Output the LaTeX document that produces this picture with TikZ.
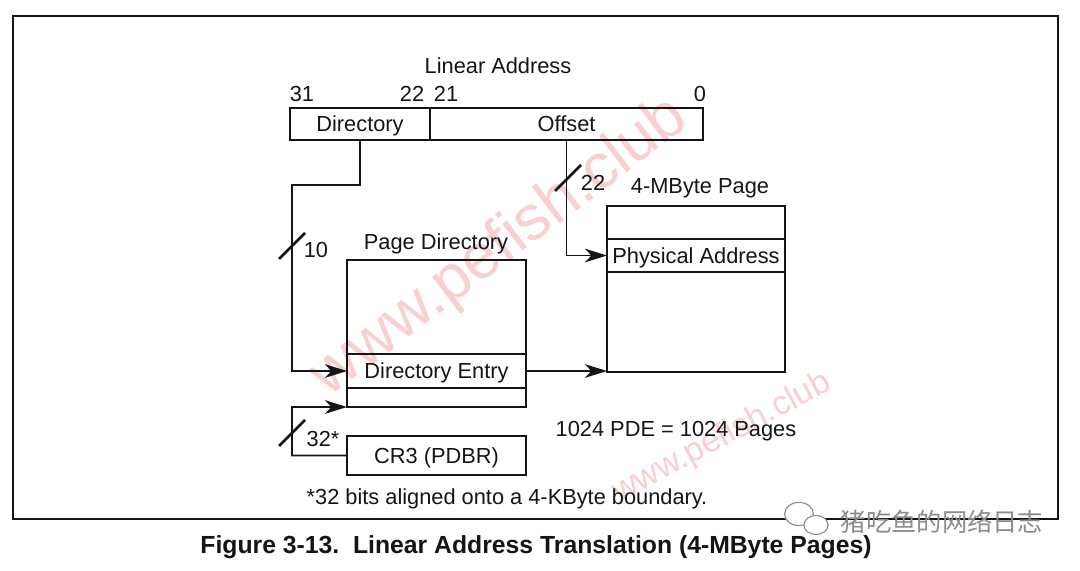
\documentclass[tikz,border=0pt]{standalone}
\usepackage{fontspec}
\setmainfont{Liberation Sans}
\newfontfamily\cjkfont{Noto Sans CJK SC}
\definecolor{InkBlack}{HTML}{151515}
\definecolor{WaterPink}{HTML}{F9CFCF}
\definecolor{LogoGray}{HTML}{8C8C8C}
\usetikzlibrary{arrows.meta, positioning, calc}
\newcommand{\figfont}{\fontsize{15.5}{18}\selectfont}
\tikzset{
  field/.style={draw=InkBlack, line width=1.5pt, inner sep=0pt, outer sep=0pt, minimum height=0.8cm, text height=11pt, text depth=0pt, font=\figfont, text=InkBlack},
  link/.style={draw=InkBlack, line width=1.2pt},
  arrowlink/.style={link, -{Stealth[length=5.5mm, width=3.4mm, inset=1.6mm]}},
  busmark/.style={draw=InkBlack, line width=1.8pt},
  lbl/.style={inner sep=0pt, anchor=base, font=\figfont, text=InkBlack}
}

\begin{document}
\begin{tikzpicture}[x=0.025cm, y=-0.025cm,
  pdcell/.style={field, minimum width=4.475cm},
  pgcell/.style={field, minimum width=4.45cm},
  water/.style={inner sep=0pt, text=WaterPink}
]
\useasboundingbox (0,0) rectangle (1080,571);
\fill[white] (0,0) rectangle (1080,571);

\node[water, rotate=37, font=\fontsize{45}{50}\selectfont] (wmbig) at (500,248) {www.pefish.club};
\node[water, rotate=28, font=\fontsize{24}{28}\selectfont] (wmsmall) at (722,438) {www.pefish.club};

\draw[line width=1.5pt, InkBlack] (13,16) rectangle (1058,519);

\node[field, minimum width=3.5cm] (dirfield) at (360,124) {Directory};
\node[field, minimum width=6.825cm, right=0pt of dirfield] (offfield) {Offset};
\node[lbl] (latitle) at (498,74) {Linear Address};
\node[lbl] (b31) at (302,102) {31};
\node[lbl] (b22) at (412,102) {22};
\node[lbl] (b21) at (446,102) {21};
\node[lbl] (b0) at (700,102) {0};

\node[lbl] (pdtitle) at (436,249) {Page Directory};
\node[pdcell, minimum height=2.35cm] (pdtop) at (436.5,307) {};
\node[pdcell, minimum height=0.85cm, below=0pt of pdtop] (pdentry) {Directory Entry};
\node[pdcell, minimum height=0.475cm, below=0pt of pdentry] (pdbot) {};

\node[lbl] (pgtitle) at (700,194) {4-MByte Page};
\node[pgcell, minimum height=0.825cm] (pgtop) at (696,222.5) {};
\node[pgcell, minimum height=0.825cm, below=0pt of pgtop] (pgphys) {Physical Address};
\node[pgcell, minimum height=2.5cm, below=0pt of pgphys] (pgrest) {};

\node[pdcell, minimum height=0.975cm] (cr3) at (436.5,455.5) {CR3 (PDBR)};

\coordinate (dirbend) at (292,185);
\coordinate (crbend) at (292,407);
\draw[arrowlink] (dirfield.south) |- (dirbend) |- (pdentry.west);
\draw[arrowlink] (offfield.south) |- (pgphys.west);
\draw[arrowlink] (pdentry.east) -- (pdentry.east -| pgrest.west);
\draw[arrowlink] (cr3.west) -| (crbend) -- (pdbot.south west);

\coordinate (bus10) at (292,246);
\coordinate (bus22) at (568,178);
\coordinate (bus32) at (292,433);
\draw[busmark] ($(bus10)+(-13,13)$) -- ($(bus10)+(13,-13)$);
\draw[busmark] ($(bus22)+(-13,13)$) -- ($(bus22)+(13,-13)$);
\draw[busmark] ($(bus32)+(-13,13)$) -- ($(bus32)+(13,-13)$);
\node[lbl] (w10) at (316,258) {10};
\node[lbl] (w22) at (593,191) {22};
\node[lbl] (w32) at (323,446) {32*};

\node[lbl] (pdenote) at (676,436) {1024 PDE = 1024 Pages};
\node[lbl] (footnote) at (507,504) {*32 bits aligned onto a 4-KByte boundary.};
\node[lbl, font=\fontsize{17.6}{20}\selectfont\bfseries] (caption) at (536,553) {Figure 3-13.\ \ Linear Address Translation (4-MByte Pages)};

\draw[LogoGray, fill=white, line width=0.8pt] (799,514) ellipse [x radius=0.36cm, y radius=0.29cm];
\draw[LogoGray, fill=white, line width=0.8pt] (816,525) ellipse [x radius=0.3cm, y radius=0.24cm];
\node[lbl, anchor=center, font=\cjkfont\fontsize{18}{20}\selectfont, text=LogoGray] (wechat) at (942,522) {猪吃鱼的网络日志};
\end{tikzpicture}
\end{document}
